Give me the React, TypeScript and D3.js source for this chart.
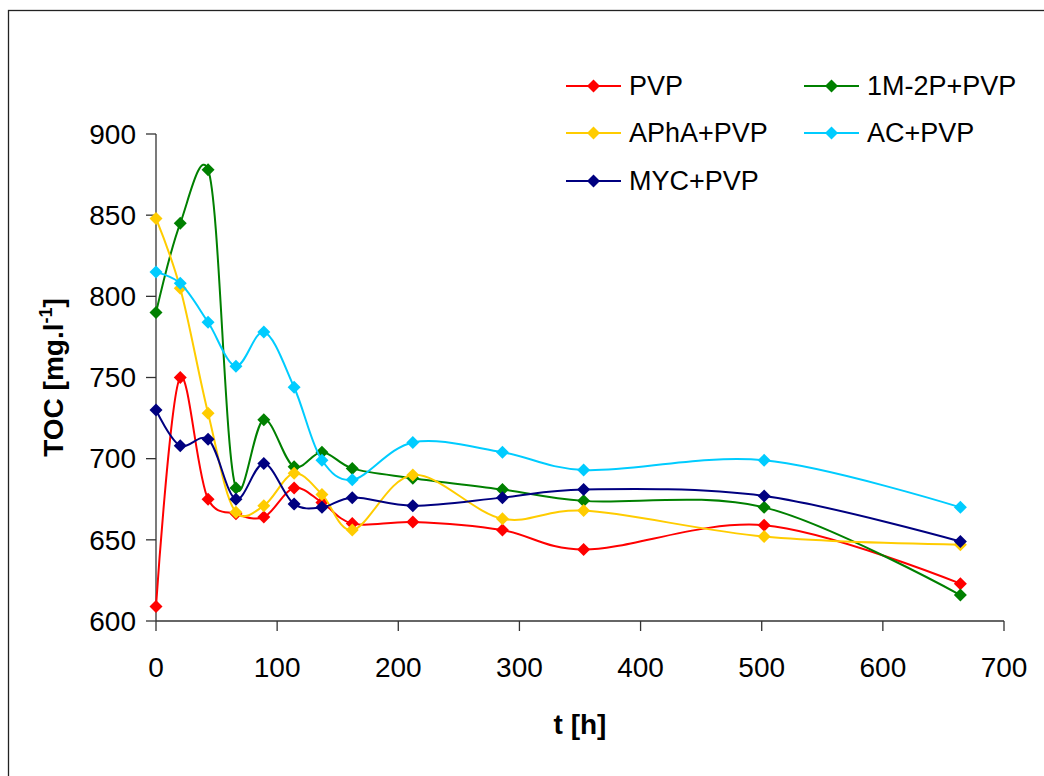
import React from "react";
import * as d3 from "d3";

// Sampling times [h]
const times = [0, 20, 43, 66, 89, 114, 137, 162, 212, 286, 353, 502, 664];

// TOC [mg/l] for each solution
const pvp = [609, 750, 675, 666, 664, 682, 673, 660, 661, 656, 644, 659, 623];
const m2pPvp = [790, 845, 878, 682, 724, 695, 704, 694, 688, 681, 674, 670, 616];
const aphaPvp = [848, 805, 728, 667, 671, 691, 678, 656, 690, 663, 668, 652, 647];
const acPvp = [815, 808, 784, 757, 778, 744, 699, 687, 710, 704, 693, 699, 670];
const mycPvp = [730, 708, 712, 675, 697, 672, 670, 676, 671, 676, 681, 677, 649];

const seriesNames = ["PVP", "1M-2P+PVP", "APhA+PVP", "AC+PVP", "MYC+PVP"];
const seriesValues = [pvp, m2pPvp, aphaPvp, acPvp, mycPvp];
const seriesColors = ["#FF0000", "#008000", "#FFCC00", "#00CCFF", "#000080"];

const xTicks = [0, 100, 200, 300, 400, 500, 600, 700];
const yTicks = [600, 650, 700, 750, 800, 850, 900];

const W = 1044;
const H = 776;
const FONT = "'Liberation Sans', Arial, Helvetica, sans-serif";

const x = d3.scaleLinear().domain([0, 700]).range([156, 1004]);
const y = d3.scaleLinear().domain([600, 900]).range([621, 134]);

const line = d3
  .line<[number, number]>()
  .x((d) => x(d[0]))
  .y((d) => y(d[1]))
  .curve(d3.curveCatmullRom.alpha(0.2));

function diamond(cx: number, cy: number, r = 6.5) {
  return `M${cx},${cy - r}L${cx + r},${cy}L${cx},${cy + r}L${cx - r},${cy}Z`;
}

// legend layout: two columns, three rows
const legendPos = [
  { lx: 566, ly: 86 },
  { lx: 804, ly: 86 },
  { lx: 566, ly: 133 },
  { lx: 804, ly: 133 },
  { lx: 566, ly: 181 },
];

export default function App() {
  const axisColor = "#333";
  return (
    <svg
      width={W}
      height={H}
      style={{ position: "absolute", left: 0, top: 0, background: "#fff" }}
      fontFamily={FONT}
    >
      {/* chart frame */}
      <rect x={8.5} y={10.5} width={1200} height={1000} fill="none" stroke="#222" strokeWidth={1.3} />

      {/* y axis */}
      <line x1={x(0)} x2={x(0)} y1={y(900)} y2={y(600)} stroke={axisColor} strokeWidth={1.3} />
      {yTicks.map((t) => (
        <g key={"y" + t}>
          <line x1={x(0) - 10} x2={x(0)} y1={y(t)} y2={y(t)} stroke={axisColor} strokeWidth={1.3} />
          <text x={136} y={y(t)} dy="0.35em" textAnchor="end" fontSize={28} fill="#000">
            {t}
          </text>
        </g>
      ))}

      {/* x axis */}
      <line x1={x(0)} x2={x(700)} y1={y(600)} y2={y(600)} stroke={axisColor} strokeWidth={1.3} />
      {xTicks.map((t) => (
        <g key={"x" + t}>
          <line x1={x(t)} x2={x(t)} y1={y(600)} y2={y(600) + 10} stroke={axisColor} strokeWidth={1.3} />
          <text x={x(t)} y={677} textAnchor="middle" fontSize={28} fill="#000">
            {t}
          </text>
        </g>
      ))}

      {/* axis titles */}
      <text x={(x(0) + x(700)) / 2} y={734} textAnchor="middle" fontSize={28} fontWeight="bold">
        t [h]
      </text>
      <text
        transform={`translate(63, ${(y(600) + y(900)) / 2}) rotate(-90)`}
        textAnchor="middle"
        fontSize={28}
        fontWeight="bold"
      >
        TOC [mg.l
        <tspan fontSize={18} dy={-11}>-1</tspan>
        <tspan dy={11}>]</tspan>
      </text>

      {/* series */}
      {seriesValues.map((vals, i) => {
        const pts = times.map((t, j) => [t, vals[j]] as [number, number]);
        return (
          <g key={"s" + i}>
            <path d={line(pts) || ""} fill="none" stroke={seriesColors[i]} strokeWidth={2} />
            {pts.map((p, j) => (
              <path key={j} d={diamond(x(p[0]), y(p[1]))} fill={seriesColors[i]} />
            ))}
          </g>
        );
      })}

      {/* legend */}
      {seriesNames.map((name, i) => {
        const { lx, ly } = legendPos[i];
        return (
          <g key={"l" + i}>
            <line x1={lx} x2={lx + 55} y1={ly} y2={ly} stroke={seriesColors[i]} strokeWidth={2} />
            <path d={diamond(lx + 27.5, ly)} fill={seriesColors[i]} />
            <text x={lx + 63} y={ly} dy="0.35em" fontSize={27} fill="#000">
              {name}
            </text>
          </g>
        );
      })}
    </svg>
  );
}
